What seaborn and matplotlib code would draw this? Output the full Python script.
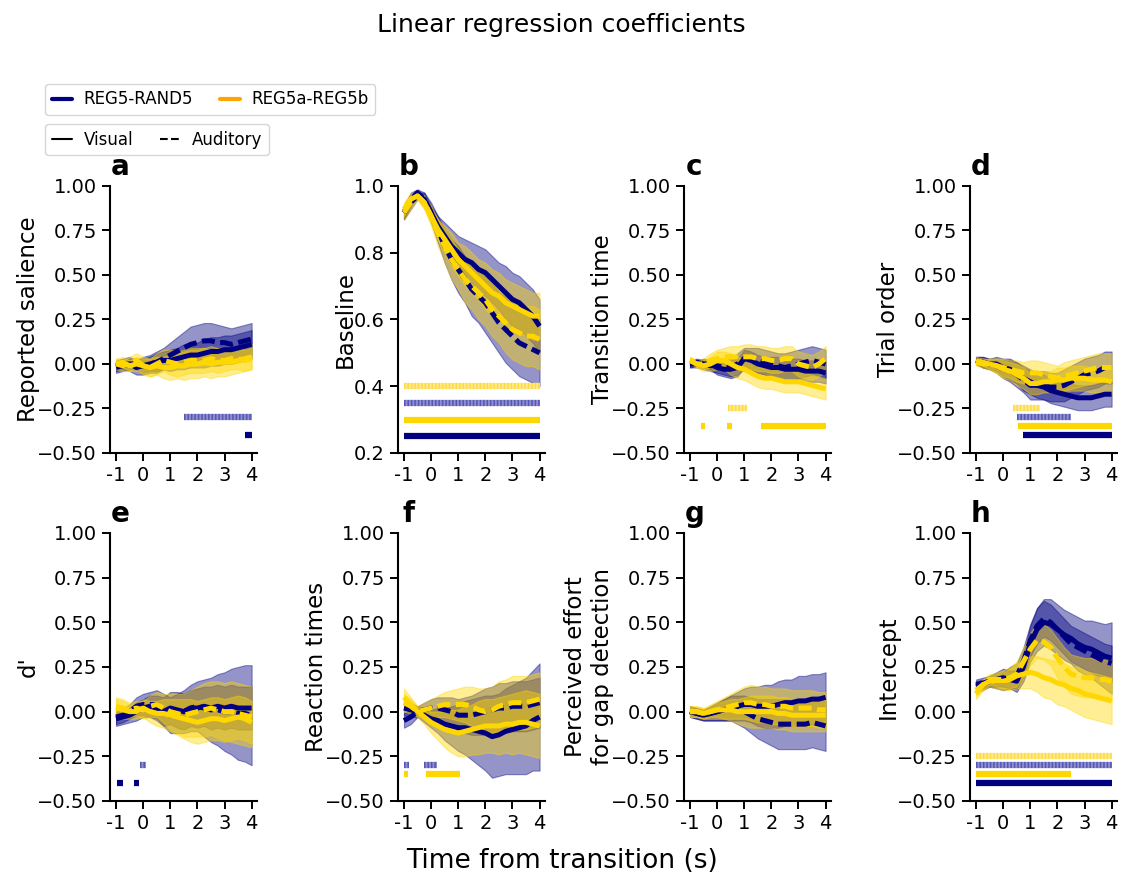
import numpy as np
import pandas as pd
import matplotlib
matplotlib.use("Agg")
import matplotlib.pyplot as plt
import seaborn as sns
from matplotlib.lines import Line2D

# ---------------- data ----------------
time = [-1.0, -0.75, -0.5, -0.25, 0.0, 0.25, 0.5, 0.75, 1.0, 1.25, 1.5,
        1.75, 2.0, 2.25, 2.5, 2.75, 3.0, 3.25, 3.5, 3.75, 4.0]
xtick_vals = [-1, 0, 1, 2, 3, 4]
xtick_labels = ["-1", "0", "1", "2", "3", "4"]
panel_letters = ["a", "b", "c", "d", "e", "f", "g", "h"]
ylabels = ["Reported salience", "Baseline", "Transition time", "Trial order",
           "d'", "Reaction times", "Perceived effort\nfor gap detection", "Intercept"]
conditions = ["REG5-RAND5", "REG5a-REG5b"]
modalities = ["Visual", "Auditory"]

# VN = visual REG5-RAND5, AN = auditory REG5-RAND5, VG = visual REG5a-REG5b, AG = auditory REG5a-REG5b
VN_a = [-0.02,-0.01,0.0,0.0,-0.01,0.0,0.01,0.02,0.02,0.03,0.04,0.05,0.05,0.06,0.07,0.07,0.08,0.08,0.09,0.10,0.11]
VN_a_ci = [0.03,0.03,0.03,0.03,0.04,0.04,0.05,0.05,0.06,0.06,0.07,0.07,0.07,0.08,0.08,0.08,0.08,0.08,0.08,0.08,0.08]
AN_a = [-0.01,0.0,0.0,-0.02,-0.01,0.0,0.01,0.03,0.05,0.07,0.09,0.11,0.12,0.13,0.13,0.12,0.12,0.11,0.12,0.13,0.14]
AN_a_ci = [0.03,0.03,0.04,0.04,0.05,0.05,0.06,0.06,0.07,0.08,0.09,0.10,0.10,0.10,0.10,0.10,0.09,0.09,0.09,0.09,0.09]
VG_a = [0.0,0.01,-0.01,0.0,-0.01,-0.02,-0.01,-0.02,-0.02,-0.01,-0.01,0.0,0.0,0.01,0.0,0.01,0.01,0.01,0.02,0.03,0.04]
VG_a_ci = [0.03,0.03,0.03,0.04,0.04,0.05,0.05,0.06,0.07,0.07,0.08,0.08,0.08,0.08,0.08,0.08,0.08,0.07,0.07,0.07,0.07]
AG_a = [0.0,-0.01,0.0,0.02,-0.01,-0.02,0.0,0.02,0.01,0.0,0.01,0.02,0.02,0.02,0.03,0.02,0.02,0.03,0.03,0.02,0.03]
AG_a_ci = [0.03,0.03,0.04,0.04,0.05,0.05,0.06,0.06,0.07,0.07,0.07,0.07,0.07,0.07,0.07,0.07,0.06,0.06,0.06,0.06,0.06]

VN_b = [0.92,0.95,0.97,0.96,0.92,0.88,0.85,0.82,0.80,0.78,0.77,0.75,0.74,0.72,0.70,0.68,0.66,0.65,0.63,0.61,0.58]
VN_b_ci = [0.02,0.02,0.01,0.02,0.02,0.03,0.04,0.05,0.05,0.06,0.06,0.07,0.07,0.07,0.07,0.08,0.08,0.08,0.08,0.08,0.08]
AN_b = [0.92,0.96,0.98,0.96,0.92,0.87,0.82,0.78,0.75,0.72,0.69,0.67,0.65,0.62,0.59,0.57,0.55,0.53,0.52,0.51,0.50]
AN_b_ci = [0.02,0.02,0.01,0.02,0.03,0.04,0.05,0.06,0.07,0.07,0.08,0.08,0.09,0.09,0.09,0.10,0.10,0.10,0.10,0.10,0.10]
VG_b = [0.93,0.96,0.97,0.95,0.91,0.87,0.84,0.81,0.78,0.76,0.74,0.72,0.70,0.68,0.67,0.65,0.64,0.63,0.62,0.61,0.61]
VG_b_ci = [0.02,0.02,0.01,0.02,0.02,0.03,0.04,0.05,0.05,0.06,0.06,0.06,0.07,0.07,0.07,0.07,0.07,0.07,0.07,0.07,0.07]
AG_b = [0.92,0.95,0.97,0.95,0.91,0.86,0.82,0.78,0.75,0.72,0.70,0.68,0.66,0.63,0.61,0.59,0.57,0.56,0.55,0.55,0.54]
AG_b_ci = [0.02,0.02,0.01,0.02,0.03,0.04,0.05,0.06,0.06,0.07,0.07,0.08,0.08,0.08,0.08,0.09,0.09,0.09,0.09,0.09,0.09]

VN_c = [0.0,0.01,0.0,0.0,-0.02,-0.03,-0.03,-0.02,0.03,0.02,0.0,-0.01,-0.02,-0.02,-0.03,-0.03,-0.03,-0.04,-0.04,-0.04,-0.05]
VN_c_ci = [0.02,0.02,0.02,0.03,0.04,0.04,0.05,0.05,0.05,0.05,0.05,0.05,0.06,0.06,0.06,0.06,0.06,0.06,0.06,0.06,0.06]
AN_c = [0.0,0.0,0.0,-0.01,-0.01,-0.02,-0.02,0.0,0.03,0.03,0.02,0.01,0.0,-0.01,-0.02,-0.01,0.0,0.01,0.02,0.01,0.0]
AN_c_ci = [0.02,0.02,0.03,0.03,0.04,0.04,0.05,0.06,0.06,0.06,0.07,0.07,0.07,0.07,0.08,0.08,0.08,0.08,0.08,0.08,0.08]
VG_c = [0.02,0.0,-0.01,0.0,0.02,0.02,0.0,-0.02,-0.03,-0.05,-0.07,-0.08,-0.08,-0.09,-0.10,-0.10,-0.10,-0.11,-0.12,-0.13,-0.14]
VG_c_ci = [0.02,0.02,0.03,0.04,0.05,0.05,0.06,0.06,0.06,0.06,0.06,0.06,0.06,0.06,0.06,0.06,0.06,0.06,0.06,0.06,0.06]
AG_c = [0.02,0.0,0.0,0.02,0.03,0.04,0.04,0.04,0.04,0.04,0.03,0.03,0.02,0.02,0.03,0.03,0.0,-0.01,-0.02,0.0,0.03]
AG_c_ci = [0.02,0.02,0.03,0.04,0.05,0.05,0.06,0.06,0.07,0.07,0.07,0.07,0.07,0.07,0.07,0.07,0.07,0.07,0.07,0.07,0.07]

VN_d = [0.02,0.01,0.0,0.0,-0.02,-0.03,-0.05,-0.08,-0.10,-0.12,-0.13,-0.15,-0.16,-0.17,-0.18,-0.19,-0.19,-0.19,-0.18,-0.17,-0.17]
VN_d_ci = [0.02,0.03,0.03,0.04,0.05,0.06,0.06,0.07,0.07,0.07,0.07,0.07,0.07,0.07,0.07,0.07,0.07,0.07,0.07,0.07,0.07]
AN_d = [0.02,0.01,0.0,-0.01,-0.03,-0.04,-0.06,-0.09,-0.12,-0.12,-0.12,-0.13,-0.13,-0.12,-0.10,-0.08,-0.06,-0.05,-0.04,-0.02,-0.02]
AN_d_ci = [0.02,0.03,0.03,0.04,0.05,0.06,0.07,0.07,0.08,0.08,0.08,0.08,0.08,0.09,0.09,0.09,0.09,0.09,0.09,0.09,0.09]
VG_d = [0.01,0.0,0.0,-0.01,-0.03,-0.04,-0.06,-0.08,-0.11,-0.11,-0.10,-0.10,-0.09,-0.09,-0.08,-0.08,-0.08,-0.09,-0.09,-0.09,-0.10]
VG_d_ci = [0.02,0.02,0.03,0.04,0.05,0.05,0.06,0.06,0.06,0.06,0.06,0.06,0.07,0.07,0.07,0.07,0.07,0.07,0.07,0.07,0.07]
AG_d = [0.02,0.01,0.0,-0.01,-0.02,-0.03,-0.04,-0.05,-0.05,-0.05,-0.06,-0.07,-0.08,-0.07,-0.06,-0.05,-0.04,-0.03,-0.02,-0.02,-0.02]
AG_d_ci = [0.02,0.02,0.03,0.04,0.05,0.05,0.06,0.06,0.07,0.07,0.07,0.07,0.07,0.08,0.08,0.08,0.08,0.08,0.08,0.08,0.08]

VN_e = [-0.04,-0.03,-0.02,0.0,0.02,0.03,0.02,0.0,0.02,0.01,0.0,0.02,0.02,0.03,0.02,0.03,0.02,0.03,0.02,0.02,0.02]
VN_e_ci = [0.04,0.04,0.04,0.05,0.05,0.06,0.07,0.08,0.09,0.10,0.10,0.10,0.11,0.11,0.12,0.12,0.12,0.12,0.12,0.12,0.12]
AN_e = [-0.03,-0.02,0.0,0.03,0.04,0.04,0.04,0.01,-0.02,-0.01,0.0,0.02,0.03,0.02,0.01,0.01,0.0,0.0,-0.01,-0.01,-0.02]
AN_e_ci = [0.04,0.04,0.04,0.05,0.06,0.07,0.08,0.09,0.10,0.11,0.12,0.13,0.14,0.16,0.18,0.20,0.22,0.24,0.26,0.27,0.28]
VG_e = [0.02,0.01,0.0,0.0,0.02,0.0,-0.01,-0.01,-0.02,-0.03,-0.04,-0.05,-0.06,-0.05,-0.04,-0.04,-0.05,-0.04,-0.03,-0.04,-0.06]
VG_e_ci = [0.05,0.05,0.04,0.04,0.05,0.06,0.07,0.08,0.09,0.10,0.11,0.12,0.12,0.12,0.12,0.12,0.12,0.12,0.12,0.12,0.12]
AG_e = [0.03,0.02,0.01,0.02,0.01,0.03,0.04,0.02,0.0,-0.01,-0.02,-0.01,0.0,0.01,0.02,0.01,0.0,0.0,-0.01,-0.02,-0.03]
AG_e_ci = [0.05,0.05,0.04,0.04,0.05,0.06,0.07,0.08,0.10,0.11,0.12,0.13,0.14,0.15,0.15,0.16,0.16,0.17,0.17,0.17,0.17]

VN_f = [0.02,0.01,0.0,-0.02,-0.04,-0.05,-0.07,-0.08,-0.09,-0.09,-0.10,-0.11,-0.12,-0.14,-0.13,-0.11,-0.10,-0.09,-0.08,-0.05,-0.03]
VN_f_ci = [0.04,0.04,0.03,0.04,0.05,0.07,0.09,0.11,0.13,0.15,0.17,0.19,0.21,0.23,0.23,0.24,0.25,0.26,0.27,0.28,0.30]
AN_f = [-0.05,-0.03,0.0,0.01,0.02,0.02,0.01,0.0,-0.02,-0.02,-0.02,-0.01,0.0,0.01,0.02,0.02,0.03,0.03,0.03,0.04,0.05]
AN_f_ci = [0.04,0.04,0.03,0.04,0.05,0.06,0.07,0.08,0.09,0.10,0.11,0.12,0.13,0.13,0.14,0.14,0.14,0.14,0.14,0.14,0.14]
VG_f = [0.08,0.04,0.0,-0.03,-0.06,-0.08,-0.10,-0.11,-0.12,-0.11,-0.10,-0.09,-0.08,-0.08,-0.08,-0.07,-0.07,-0.06,-0.06,-0.07,-0.08]
VG_f_ci = [0.05,0.04,0.03,0.04,0.06,0.08,0.10,0.12,0.13,0.14,0.14,0.15,0.15,0.15,0.16,0.16,0.17,0.17,0.18,0.18,0.18]
AG_f = [0.05,0.03,0.0,0.01,0.02,0.03,0.04,0.04,0.04,0.04,0.03,0.01,0.0,0.01,0.03,0.04,0.05,0.05,0.05,0.06,0.07]
AG_f_ci = [0.05,0.04,0.03,0.04,0.05,0.06,0.07,0.08,0.09,0.10,0.11,0.12,0.13,0.13,0.14,0.14,0.15,0.15,0.15,0.15,0.15]

VN_g = [0.0,-0.01,-0.02,-0.01,0.0,0.01,0.02,0.03,0.04,0.04,0.03,0.03,0.03,0.04,0.05,0.05,0.06,0.06,0.07,0.07,0.08]
VN_g_ci = [0.03,0.03,0.03,0.04,0.05,0.06,0.07,0.08,0.09,0.10,0.11,0.12,0.12,0.13,0.13,0.13,0.14,0.14,0.14,0.14,0.14]
AN_g = [0.0,-0.01,-0.02,-0.01,0.0,0.01,0.02,0.01,0.0,-0.02,-0.04,-0.05,-0.06,-0.07,-0.07,-0.07,-0.07,-0.07,-0.06,-0.07,-0.08]
AN_g_ci = [0.03,0.03,0.03,0.04,0.05,0.06,0.07,0.08,0.09,0.10,0.11,0.12,0.13,0.14,0.14,0.14,0.14,0.14,0.14,0.14,0.14]
VG_g = [0.0,0.0,-0.01,0.0,0.01,0.01,0.01,0.0,0.0,0.0,0.0,0.0,0.0,-0.01,-0.01,-0.02,-0.02,-0.02,-0.02,-0.02,-0.02]
VG_g_ci = [0.03,0.03,0.03,0.03,0.04,0.05,0.06,0.07,0.08,0.09,0.09,0.09,0.09,0.09,0.09,0.09,0.09,0.09,0.09,0.09,0.09]
AG_g = [0.0,0.0,-0.01,0.0,0.01,0.02,0.03,0.04,0.05,0.05,0.04,0.04,0.03,0.03,0.03,0.02,0.02,0.02,0.02,0.01,0.01]
AG_g_ci = [0.03,0.03,0.03,0.04,0.05,0.06,0.07,0.08,0.09,0.10,0.10,0.10,0.10,0.10,0.10,0.10,0.10,0.10,0.10,0.10,0.10]

VN_h = [0.14,0.15,0.17,0.18,0.19,0.18,0.17,0.25,0.38,0.46,0.50,0.49,0.46,0.43,0.41,0.38,0.36,0.35,0.33,0.31,0.30]
VN_h_ci = [0.03,0.03,0.03,0.04,0.05,0.05,0.06,0.08,0.10,0.12,0.13,0.14,0.14,0.14,0.14,0.15,0.15,0.16,0.17,0.18,0.20]
AN_h = [0.15,0.16,0.17,0.17,0.17,0.19,0.20,0.28,0.40,0.48,0.52,0.50,0.46,0.42,0.38,0.36,0.34,0.32,0.30,0.28,0.27]
AN_h_ci = [0.03,0.03,0.03,0.04,0.05,0.06,0.07,0.08,0.09,0.10,0.10,0.10,0.10,0.10,0.10,0.10,0.10,0.10,0.10,0.10,0.10]
VG_h = [0.12,0.15,0.17,0.17,0.17,0.18,0.20,0.21,0.22,0.21,0.19,0.18,0.16,0.15,0.13,0.12,0.10,0.09,0.08,0.07,0.06]
VG_h_ci = [0.03,0.03,0.03,0.04,0.05,0.06,0.07,0.08,0.09,0.10,0.11,0.11,0.12,0.12,0.12,0.13,0.13,0.13,0.13,0.13,0.13]
AG_h = [0.10,0.15,0.18,0.18,0.18,0.19,0.21,0.28,0.35,0.40,0.39,0.36,0.30,0.25,0.21,0.20,0.19,0.19,0.18,0.18,0.17]
AG_h_ci = [0.03,0.03,0.03,0.04,0.05,0.06,0.07,0.08,0.09,0.10,0.10,0.10,0.11,0.11,0.11,0.11,0.11,0.11,0.11,0.11,0.11]

# significance intervals (start, end) per series
sig_a = {"AN": [(1.5, 4.0)], "VN": [(3.75, 4.0)]}
sig_b = {"AG": [(-1.0, 4.0)], "AN": [(-1.0, 4.0)], "VG": [(-1.0, 4.0)], "VN": [(-1.0, 4.0)]}
sig_c = {"AG": [(0.4, 1.1)], "VG": [(-0.6, -0.45), (0.35, 0.55), (1.6, 4.0)]}
sig_d = {"AG": [(0.35, 1.35)], "AN": [(0.5, 2.5)], "VG": [(0.55, 4.0)], "VN": [(0.75, 4.0)]}
sig_e = {"VN": [(-0.95, -0.75), (-0.35, -0.15)], "AN": [(-0.1, 0.1)]}
sig_f = {"AN": [(-1.0, -0.8), (-0.25, 0.2)], "VG": [(-1.0, -0.85), (-0.2, 1.05)]}
sig_g = {}
sig_h = {"AG": [(-1.0, 4.0)], "AN": [(-1.0, 4.0)], "VG": [(-1.0, 2.5)], "VN": [(-1.0, 4.0)]}
sig_levels_default = {"VN": -0.40, "VG": -0.35, "AN": -0.30, "AG": -0.25}
sig_levels_b = {"VN": 0.25, "VG": 0.30, "AN": 0.35, "AG": 0.40}

ylims_default = (-0.5, 1.0)
yticks_default = [-0.5, -0.25, 0.0, 0.25, 0.5, 0.75, 1.0]
ylims_b = (0.2, 1.0)
yticks_b = [0.2, 0.4, 0.6, 0.8, 1.0]

# ---------------- assemble ----------------
series = {
    "a": {"VN": (VN_a, VN_a_ci), "AN": (AN_a, AN_a_ci), "VG": (VG_a, VG_a_ci), "AG": (AG_a, AG_a_ci)},
    "b": {"VN": (VN_b, VN_b_ci), "AN": (AN_b, AN_b_ci), "VG": (VG_b, VG_b_ci), "AG": (AG_b, AG_b_ci)},
    "c": {"VN": (VN_c, VN_c_ci), "AN": (AN_c, AN_c_ci), "VG": (VG_c, VG_c_ci), "AG": (AG_c, AG_c_ci)},
    "d": {"VN": (VN_d, VN_d_ci), "AN": (AN_d, AN_d_ci), "VG": (VG_d, VG_d_ci), "AG": (AG_d, AG_d_ci)},
    "e": {"VN": (VN_e, VN_e_ci), "AN": (AN_e, AN_e_ci), "VG": (VG_e, VG_e_ci), "AG": (AG_e, AG_e_ci)},
    "f": {"VN": (VN_f, VN_f_ci), "AN": (AN_f, AN_f_ci), "VG": (VG_f, VG_f_ci), "AG": (AG_f, AG_f_ci)},
    "g": {"VN": (VN_g, VN_g_ci), "AN": (AN_g, AN_g_ci), "VG": (VG_g, VG_g_ci), "AG": (AG_g, AG_g_ci)},
    "h": {"VN": (VN_h, VN_h_ci), "AN": (AN_h, AN_h_ci), "VG": (VG_h, VG_h_ci), "AG": (AG_h, AG_h_ci)},
}
sigs = {"a": sig_a, "b": sig_b, "c": sig_c, "d": sig_d, "e": sig_e, "f": sig_f, "g": sig_g, "h": sig_h}

NAVY = "#000080"
GOLD = "#FFD700"
ORANGE = "#FFA500"
col = {"VN": NAVY, "AN": NAVY, "VG": GOLD, "AG": GOLD}
hatch_base = {"AN": "#8f8fd0", "AG": "#ffe98f"}
hatch_stripe = {"AN": "#2a2aa0", "AG": "#ffd000"}

# ---------------- figure ----------------
sns.set_style("ticks")
plt.rcParams["font.family"] = ["DejaVu Sans"]
for k in ["text.color", "axes.labelcolor", "xtick.color", "ytick.color", "axes.edgecolor"]:
    plt.rcParams[k] = "black"
fig = plt.figure(figsize=(11.23, 8.77), dpi=100)

lefts = [0.0980, 0.3544, 0.6091, 0.8638]
bottoms = [0.4835, 0.0867]
heights = [0.3045, 0.3056]
width = 0.1309

for i, key in enumerate(panel_letters):
    r, c = divmod(i, 4)
    ax = fig.add_axes([lefts[c], bottoms[r], width, heights[r]])
    data = series[key]
    t = np.array(time)
    # bands
    for s in ["VN", "AN", "VG", "AG"]:
        m, ci = np.array(data[s][0]), np.array(data[s][1])
        ax.fill_between(t, m - ci, m + ci, color=col[s], alpha=0.42, lw=0.8, zorder=1)
    # lines
    for s in ["VN", "AN", "VG", "AG"]:
        df = pd.DataFrame({"t": time, "v": data[s][0]})
        sns.lineplot(data=df, x="t", y="v", ax=ax, color=col[s], lw=3.6, zorder=3)
        ln = ax.lines[-1]
        if s.startswith("A"):
            ln.set_dashes((2.6, 1.1))
        ln.set_solid_capstyle("butt")
    # significance bars
    levels = sig_levels_b if key == "b" else sig_levels_default
    for s, ivs in sigs[key].items():
        y = levels[s]
        for (st, en) in ivs:
            if s.startswith("V"):
                ax.plot([st, en], [y, y], color=col[s], lw=4.5, solid_capstyle="butt", zorder=2)
            else:
                ax.plot([st, en], [y, y], color=hatch_base[s], lw=4.5, solid_capstyle="butt", zorder=2)
                ax.plot([st, en], [y, y], color=hatch_stripe[s], lw=4.5, alpha=0.55,
                        dashes=(0.25, 0.3), dash_capstyle="butt", zorder=2)

    ax.set_xlim(-1.22, 4.2)
    if key == "b":
        ax.set_ylim(*ylims_b)
        ax.set_yticks(yticks_b)
        ax.set_yticklabels([f"{v:.1f}" for v in yticks_b])
    else:
        ax.set_ylim(*ylims_default)
        ax.set_yticks(yticks_default)
        ax.set_yticklabels([f"{v:.2f}".replace("-", "\u2212") for v in yticks_default])
    ax.set_xticks(xtick_vals)
    ax.set_xticklabels(xtick_labels)
    ax.tick_params(labelsize=14, length=6, width=1.4, colors="black")
    ax.set_xlabel("")
    ax.set_ylabel(ylabels[i], fontsize=16.5, labelpad=-2)
    for sp in ["left", "bottom"]:
        ax.spines[sp].set_linewidth(1.5)
        ax.spines[sp].set_color("black")
    sns.despine(ax=ax)
    ax.text(0.07, 1.02, key, transform=ax.transAxes, ha="center", va="bottom",
            fontsize=20, fontweight="bold")

fig.suptitle("Linear regression coefficients", fontsize=18, y=0.985)
fig.supxlabel("Time from transition (s)", fontsize=19, y=0.003)

h1 = [Line2D([0], [0], color=NAVY, lw=3), Line2D([0], [0], color=ORANGE, lw=3)]
leg1 = fig.legend(h1, conditions, loc="upper left", bbox_to_anchor=(0.033, 0.914), ncol=2,
                  fontsize=12, handlelength=1.2, handletextpad=0.7, columnspacing=1.6,
                  frameon=True)
h2 = [Line2D([0], [0], color="black", lw=1.5), Line2D([0], [0], color="black", lw=1.5, ls="--")]
leg2 = fig.legend(h2, modalities, loc="upper left", bbox_to_anchor=(0.033, 0.868), ncol=2,
                  fontsize=12, handlelength=1.2, handletextpad=0.7, columnspacing=1.6,
                  frameon=True)

fig.savefig("out.png", dpi=100)
